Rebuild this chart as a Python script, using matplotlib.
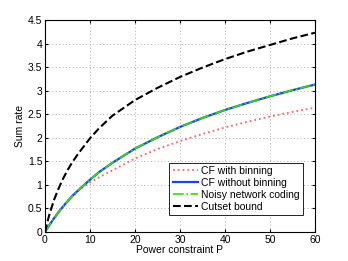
import matplotlib
matplotlib.use("Agg")
import matplotlib.pyplot as plt
import numpy as np

P = [0, 0.5, 1, 2, 3, 4, 5, 6, 7, 8, 10, 12, 15, 20, 25, 30, 35, 40, 45, 50, 55, 60]
cutset = [0, 0.2, 0.38, 0.68, 0.92, 1.13, 1.31, 1.47, 1.61, 1.74, 1.99, 2.2, 2.47, 2.8, 3.06, 3.29, 3.49, 3.67, 3.83, 3.97, 4.11, 4.23]
cf_nobin = [0, 0.08, 0.15, 0.29, 0.42, 0.54, 0.65, 0.76, 0.85, 0.94, 1.11, 1.27, 1.47, 1.77, 2.01, 2.23, 2.42, 2.59, 2.74, 2.88, 3.01, 3.13]
cf_bin = [0, 0.08, 0.15, 0.29, 0.42, 0.54, 0.65, 0.75, 0.84, 0.92, 1.05, 1.16, 1.31, 1.56, 1.76, 1.93, 2.08, 2.22, 2.34, 2.45, 2.55, 2.64]

plt.rcParams['font.family'] = ['Liberation Sans', 'DejaVu Sans']
fig = plt.figure(figsize=(3.48, 2.61), dpi=100)
ax = fig.add_axes([45/348, 1-232/261, 270/348, 212/261])

ax.plot(P, cf_bin, color='#ff6666', linestyle=':', linewidth=1.3, label='CF with binning')
ax.plot(P, cf_nobin, color='#1f3fff', linestyle='-', linewidth=1.6, label='CF without binning')
ax.plot(P, cf_nobin, color='#33dd00', linestyle='-.', linewidth=1.2, label='Noisy network coding')
ax.plot(P, cutset, color='black', linestyle='--', linewidth=1.5, label='Cutset bound')

ax.set_xlim(0, 60)
ax.set_ylim(0, 4.5)
ax.set_xticks([0, 10, 20, 30, 40, 50, 60])
ax.set_yticks([0, 0.5, 1, 1.5, 2, 2.5, 3, 3.5, 4, 4.5])
ax.set_yticklabels(['0', '0.5', '1', '1.5', '2', '2.5', '3', '3.5', '4', '4.5'])
ax.grid(True, linestyle=(0, (1, 2.5)), color='#b0b0b0', linewidth=0.7)
ax.tick_params(labelsize=7.5, direction='in', length=2.5, pad=2, top=True, right=True)
ax.set_xlabel('Power constraint P', fontsize=7.5, labelpad=0.5)
ax.set_ylabel('Sum rate', fontsize=7.5, labelpad=2)
leg = ax.legend(loc='lower right', bbox_to_anchor=(0.9556, 0.080), fontsize=7.5, frameon=True,
                fancybox=False, edgecolor='black', framealpha=1, handlelength=2.4,
                borderpad=0.3, labelspacing=0.2, handletextpad=0.35, borderaxespad=0)
leg.get_frame().set_linewidth(0.6)
fig.savefig('out.png', dpi=100)
